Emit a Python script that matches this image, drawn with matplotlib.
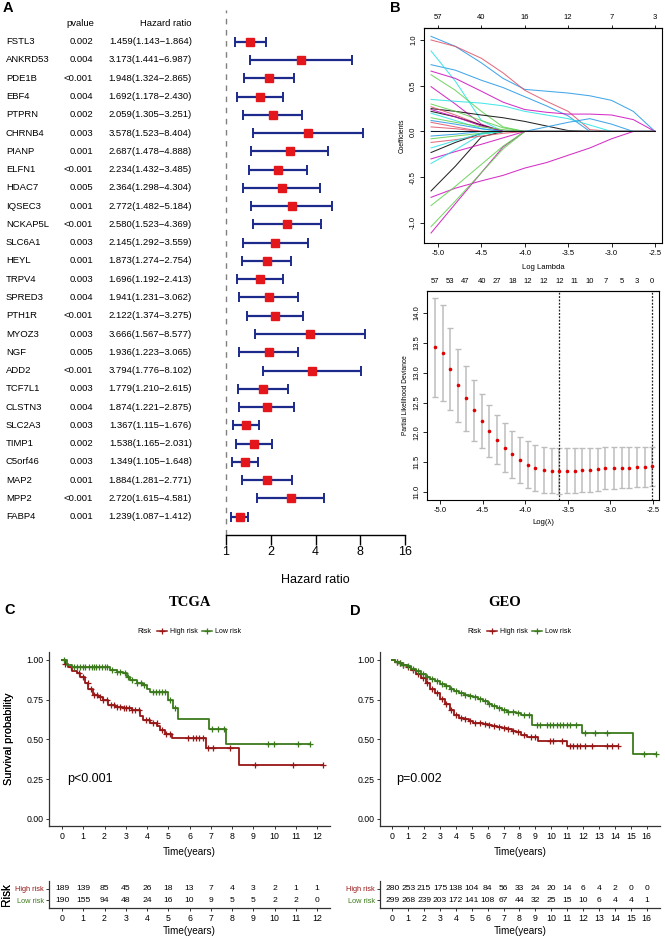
import numpy as np
import matplotlib
matplotlib.use("Agg")
import matplotlib.pyplot as plt
import matplotlib.transforms as mtrans
from matplotlib.lines import Line2D

W, H = 665, 938
plt.rcParams['font.family'] = ['Liberation Sans', 'DejaVu Sans']

# ---------------- A: univariate cox (forest)
genes = ['FSTL3', 'ANKRD53', 'PDE1B', 'EBF4', 'PTPRN', 'CHRNB4', 'PIANP', 'ELFN1', 'HDAC7',
         'IQSEC3', 'NCKAP5L', 'SLC6A1', 'HEYL', 'TRPV4', 'SPRED3', 'PTH1R', 'MYOZ3', 'NGF',
         'ADD2', 'TCF7L1', 'CLSTN3', 'SLC2A3', 'TIMP1', 'C5orf46', 'MAP2', 'MPP2', 'FABP4']
pvals = ['0.002', '0.004', '<0.001', '0.004', '0.002', '0.003', '0.001', '<0.001', '0.005',
         '0.001', '<0.001', '0.003', '0.001', '0.003', '0.004', '<0.001', '0.003', '0.005',
         '<0.001', '0.003', '0.004', '0.003', '0.002', '0.003', '0.001', '<0.001', '0.001']
hr = [1.459, 3.173, 1.948, 1.692, 2.059, 3.578, 2.687, 2.234, 2.364, 2.772, 2.580, 2.145, 1.873,
      1.696, 1.941, 2.122, 3.666, 1.936, 3.794, 1.779, 1.874, 1.367, 1.538, 1.349, 1.884, 2.720, 1.239]
hr_lo = [1.143, 1.441, 1.324, 1.178, 1.305, 1.523, 1.478, 1.432, 1.298, 1.482, 1.523, 1.292, 1.274,
         1.192, 1.231, 1.374, 1.567, 1.223, 1.776, 1.210, 1.221, 1.115, 1.165, 1.105, 1.281, 1.615, 1.087]
hr_hi = [1.864, 6.987, 2.865, 2.430, 3.251, 8.404, 4.888, 3.485, 4.304, 5.184, 4.369, 3.559, 2.754,
         2.413, 3.062, 3.275, 8.577, 3.065, 8.102, 2.615, 2.875, 1.676, 2.031, 1.648, 2.771, 4.581, 1.412]
hr_ticks = [1, 2, 4, 8, 16]

# ---------------- B top: lasso coefficient paths
coef_loglam = [-5.08, -4.8, -4.5, -4.25, -4.0, -3.75, -3.5, -3.25, -3.0, -2.75, -2.5]
coef_paths = [
    [1.04, 0.93, 0.75, 0.58, 0.46, 0.44, 0.42, 0.39, 0.34, 0.22, 0.0],
    [1.00, 0.93, 0.80, 0.64, 0.45, 0.33, 0.22, 0.02, 0, 0, 0],
    [0.73, 0.67, 0.56, 0.48, 0.38, 0.28, 0.17, 0.0, 0, 0, 0],
    [0.88, 0.55, 0.12, 0, 0, 0, 0, 0, 0, 0, 0],
    [0.66, 0.58, 0.44, 0.32, 0.24, 0.21, 0.19, 0.19, 0.18, 0.13, 0.0],
    [0.62, 0.45, 0.22, 0.05, 0, 0, 0, 0, 0, 0, 0],
    [0.49, 0.30, 0.08, 0, 0, 0, 0, 0, 0, 0, 0],
    [0.35, 0.33, 0.31, 0.28, 0.22, 0.18, 0.14, 0.07, 0.0, 0, 0],
    [0.25, 0.22, 0.18, 0.15, 0.11, 0.06, 0.01, 0, 0, 0, 0],
    [0.30, 0.22, 0.12, 0.04, 0, 0, 0, 0, 0, 0, 0],
    [0.27, 0.18, 0.07, 0, 0, 0, 0, 0, 0, 0, 0],
    [0.20, 0.12, 0.03, 0, 0, 0, 0, 0, 0, 0, 0],
    [0.22, 0.16, 0.07, 0.0, 0, 0, 0, 0, 0, 0, 0],
    [0.24, 0.16, 0.06, 0, 0, 0, 0, 0, 0, 0, 0],
    [0.12, 0.08, 0.03, 0, 0, 0, 0, 0, 0, 0, 0],
    [0.15, 0.10, 0.05, 0.02, 0, 0, 0, 0, 0, 0, 0],
    [0.10, 0.05, 0.0, 0, 0, 0, 0, 0, 0, 0, 0],
    [0.0, 0.0, 0.0, 0.0, 0.0, 0.05, 0.10, 0.14, 0.08, 0.0, 0.0],
    [-0.72, -0.62, -0.54, -0.48, -0.40, -0.34, -0.26, -0.18, -0.08, 0.0, 0.0],
    [-1.11, -0.79, -0.45, -0.17, 0, 0, 0, 0, 0, 0, 0],
    [-1.04, -0.76, -0.45, -0.19, 0, 0, 0, 0, 0, 0, 0],
    [-0.65, -0.38, -0.06, 0, 0, 0, 0, 0, 0, 0, 0],
    [-0.81, -0.60, -0.36, -0.16, 0, 0, 0, 0, 0, 0, 0],
    [-0.30, -0.22, -0.14, -0.07, 0, 0, 0, 0, 0, 0, 0],
    [-0.23, -0.12, -0.02, 0, 0, 0, 0, 0, 0, 0, 0],
    [-0.35, -0.20, -0.03, 0, 0, 0, 0, 0, 0, 0, 0],
    [-0.12, -0.09, -0.05, -0.02, 0, 0, 0, 0, 0, 0, 0],
    [-0.08, -0.05, -0.02, 0, 0, 0, 0, 0, 0, 0, 0],
    [-0.18, -0.10, -0.02, 0, 0, 0, 0, 0, 0, 0, 0],
    [-0.05, -0.03, 0, 0, 0, 0, 0, 0, 0, 0, 0],
    [0.05, 0.03, 0, 0, 0, 0, 0, 0, 0, 0, 0],
    [0.0, 0.0, 0.0, 0.0, 0.0, 0.0, 0.0, 0.0, 0.0, 0.0, 0.0],
]
coef_colors = ['#2297E6', '#DF536B', '#2297E6', '#28E2E5', '#CD0BBC', '#61D04F', '#CD0BBC', '#28E2E5',
               '#000000', '#61D04F', '#DF536B', '#28E2E5', '#000000', '#CD0BBC', '#2297E6', '#61D04F',
               '#DF536B', '#2297E6', '#CD0BBC', '#CD0BBC', '#61D04F', '#000000', '#61D04F', '#CD0BBC',
               '#000000', '#28E2E5', '#DF536B', '#61D04F', '#28E2E5', '#2297E6', '#DF536B', '#000000']
coef_top_ticks = [-5.0, -4.5, -4.0, -3.5, -3.0, -2.5]
coef_df = ['57', '40', '16', '12', '7', '3']

# ---------------- B bottom: cross validation
cv_loglam = [-5.06, -4.97, -4.88, -4.79, -4.70, -4.60, -4.51, -4.42, -4.33, -4.24, -4.15, -4.06,
             -3.97, -3.88, -3.78, -3.69, -3.60, -3.51, -3.42, -3.33, -3.24, -3.15, -3.06, -2.96,
             -2.87, -2.78, -2.69, -2.60, -2.51]
cv_mean = [13.43, 13.33, 13.06, 12.79, 12.57, 12.37, 12.19, 12.02, 11.88, 11.74, 11.63, 11.54,
           11.46, 11.40, 11.37, 11.36, 11.35, 11.36, 11.36, 11.37, 11.37, 11.38, 11.40, 11.40,
           11.41, 11.41, 11.42, 11.42, 11.43]
cv_se = [0.83, 0.80, 0.69, 0.61, 0.55, 0.51, 0.46, 0.43, 0.41, 0.41, 0.40, 0.39, 0.39, 0.39,
         0.38, 0.38, 0.38, 0.38, 0.37, 0.37, 0.37, 0.36, 0.35, 0.35, 0.34, 0.34, 0.33, 0.33, 0.33]
cv_nz = ['57', '', '53', '', '47', '', '40', '', '27', '', '18', '', '12', '', '12', '', '12', '',
         '11', '', '10', '', '7', '', '5', '', '3', '', '0']

# ---------------- C: TCGA survival
tcga_high_t = [0, 0.14, 0.3, 0.46, 0.69, 0.85, 1.08, 1.24, 1.47, 1.71, 1.94, 2.18, 2.49, 2.89,
               3.28, 3.67, 3.8, 4.14, 4.46, 4.61, 4.85, 5.16, 6.78, 8.33, 12.3]
tcga_high_s = [1.0, 0.975, 0.958, 0.933, 0.916, 0.895, 0.853, 0.82, 0.78, 0.765, 0.748, 0.716,
               0.706, 0.696, 0.685, 0.65, 0.622, 0.605, 0.584, 0.559, 0.534, 0.507, 0.444, 0.336, 0.336]
tcga_high_cens = [0.15, 0.4, 0.8, 1.0, 1.2, 1.35, 1.5, 1.65, 1.8, 1.95, 2.1, 2.3, 2.45, 2.6, 2.75,
                  2.9, 3.0, 3.15, 3.3, 3.45, 3.6, 3.95, 4.1, 4.3, 4.45, 4.7, 4.9, 5.1, 5.94, 6.18,
                  6.31, 6.46, 6.62, 6.88, 7.12, 7.9, 9.08, 10.88, 12.3]
tcga_low_t = [0, 0.22, 0.46, 2.26, 2.57, 2.89, 3.04, 3.2, 3.51, 3.83, 3.98, 4.14, 5.0, 5.2,
              5.47, 6.93, 7.7, 11.67]
tcga_low_s = [1.0, 0.968, 0.954, 0.937, 0.926, 0.916, 0.895, 0.874, 0.857, 0.842, 0.82, 0.80,
              0.748, 0.695, 0.626, 0.563, 0.471, 0.471]
tcga_low_cens = [0.1, 0.55, 0.7, 0.85, 1.0, 1.1, 1.25, 1.4, 1.5, 1.6, 1.75, 1.9, 2.0, 2.1, 2.35,
                 2.6, 2.75, 2.95, 3.1, 3.3, 3.55, 3.7, 3.85, 4.3, 4.4, 4.55, 4.7, 4.85, 5.1, 5.3,
                 7.04, 7.36, 7.62, 9.71, 9.98, 11.09, 11.67]
tcga_high_risk = [189, 139, 85, 45, 26, 18, 13, 7, 4, 3, 2, 1, 1]
tcga_low_risk = [190, 155, 94, 48, 24, 16, 10, 9, 5, 5, 2, 2, 0]

# ---------------- D: GEO survival
geo_high_t = [0, 0.2, 0.4, 0.6, 0.9, 1.2, 1.5, 1.8, 2.1, 2.4, 2.7, 3.0, 3.3, 3.6, 3.9, 4.2, 4.5,
              4.8, 5.1, 5.4, 5.7, 6.0, 6.3, 6.6, 6.9, 7.2, 7.5, 7.8, 8.1, 8.45, 9.18, 10.97, 14.21]
geo_high_s = [1.0, 0.99, 0.98, 0.97, 0.955, 0.935, 0.91, 0.885, 0.855, 0.82, 0.79, 0.755, 0.72,
              0.685, 0.655, 0.635, 0.625, 0.615, 0.605, 0.60, 0.595, 0.59, 0.583, 0.577, 0.57,
              0.562, 0.555, 0.545, 0.527, 0.513, 0.491, 0.458, 0.458]
geo_high_cens = [0.3, 0.5, 0.7, 1.0, 1.3, 1.6, 1.9, 2.2, 2.5, 2.8, 3.1, 3.4, 3.7, 4.0, 4.3, 4.6,
                 4.9, 5.2, 5.5, 5.8, 6.1, 6.4, 6.7, 7.0, 7.3, 7.6, 7.9, 8.3, 8.7, 9.0, 9.92,
                 10.13, 10.65, 11.18, 11.38, 11.64, 11.81, 12.12, 12.54, 13.48, 13.8, 14.21]
geo_low_t = [0, 0.2, 0.4, 0.6, 0.9, 1.2, 1.5, 1.8, 2.1, 2.4, 2.7, 3.0, 3.3, 3.6, 3.9, 4.2, 4.5,
             4.8, 5.1, 5.4, 5.7, 6.0, 6.3, 6.6, 6.9, 7.2, 7.5, 7.8, 8.1, 8.77, 11.91, 15.12, 16.58]
geo_low_s = [1.0, 0.99, 0.98, 0.97, 0.96, 0.945, 0.93, 0.91, 0.895, 0.88, 0.865, 0.85, 0.835,
             0.82, 0.805, 0.79, 0.78, 0.77, 0.765, 0.755, 0.74, 0.725, 0.71, 0.695, 0.685, 0.675,
             0.67, 0.664, 0.653, 0.59, 0.542, 0.408, 0.408]
geo_low_cens = [0.3, 0.5, 0.7, 1.0, 1.3, 1.6, 1.9, 2.2, 2.5, 2.8, 3.1, 3.4, 3.7, 4.0, 4.3, 4.6,
                4.9, 5.2, 5.5, 5.8, 6.1, 6.4, 6.7, 7.0, 7.3, 7.6, 7.9, 8.3, 8.6, 9.08, 9.29, 9.71,
                9.92, 10.13, 10.34, 10.55, 10.76, 10.97, 11.18, 11.55, 12.12, 12.75, 13.48,
                15.85, 16.58]
geo_high_risk = [280, 253, 215, 175, 138, 104, 84, 56, 33, 24, 20, 14, 6, 4, 2, 0, 0]
geo_low_risk = [299, 268, 239, 203, 172, 141, 108, 67, 44, 32, 25, 15, 10, 6, 4, 4, 1]

HIGH_COL = '#971616'
LOW_COL = '#3B7A1C'

fig = plt.figure(figsize=(W / 100, H / 100), dpi=100)


def add_ax(x0, y0, x1, y1):
    # axes from pixel box (top-left origin)
    return fig.add_axes([x0 / W, 1 - y1 / H, (x1 - x0) / W, (y1 - y0) / H])


def ftext(x, y, s, **kw):
    fig.text(x / W, 1 - y / H, s, **kw)


# ================= A
axf = add_ax(226, 10, 405, 535)
rows = np.arange(len(genes))
hr_a = np.array(hr)
axf.errorbar(hr_a, rows, xerr=[hr_a - np.array(hr_lo), np.array(hr_hi) - hr_a], fmt='none',
             ecolor='#1c2a8c', elinewidth=1.6, capsize=3.8, capthick=1.4)
axf.plot(hr_a, rows, 's', color='#e3161b', ms=6.2, mec='#e3161b', zorder=3)
axf.axvline(1, color='#808080', ls=(0, (4, 4)), lw=1.0, clip_on=False)
axf.set_xscale('log', base=2)
axf.set_xlim(1, 16)
axf.set_ylim(27.0, -1.735)
axf.set_xticks(hr_ticks)
axf.set_xticklabels([str(v) for v in hr_ticks])
axf.minorticks_off()
axf.set_yticks([])
for s in ['top', 'right', 'left']:
    axf.spines[s].set_visible(False)
axf.spines['bottom'].set_linewidth(1.0)
axf.tick_params(axis='x', length=7, width=1.0, labelsize=9, pad=1)
ftext(315, 580, 'Hazard ratio', ha='center', va='center', fontsize=9)

tr = mtrans.blended_transform_factory(fig.transFigure, axf.transData)
TFS = 6.8
fig.text(80 / W, -1, 'pvalue', transform=tr, ha='center', va='center', fontsize=TFS)
fig.text(192 / W, -1, 'Hazard ratio', transform=tr, ha='right', va='center', fontsize=TFS)
for i, g in enumerate(genes):
    fig.text(6 / W, i, g, transform=tr, ha='left', va='center', fontsize=TFS)
    fig.text(93 / W, i, pvals[i], transform=tr, ha='right', va='center', fontsize=TFS)
    fig.text(192 / W, i, f"{hr[i]:.3f}({hr_lo[i]:.3f}\u2212{hr_hi[i]:.3f})", transform=tr,
             ha='right', va='center', fontsize=TFS)

# ================= B top
axc = add_ax(424, 28, 662, 243)
for vals, col in zip(coef_paths, coef_colors):
    axc.plot(coef_loglam, vals, color=col, lw=0.75, alpha=0.85)
axc.set_xlim(-5.161, -2.419)
axc.set_ylim(-1.219, 1.131)
axc.set_xticks(coef_top_ticks)
axc.set_xticklabels([f"{v:.1f}" for v in coef_top_ticks])
yt = [-1.0, -0.5, 0.0, 0.5, 1.0]
axc.set_yticks(yt)
axc.set_yticklabels([f"{v:.1f}" for v in yt], rotation=90, va='center')
axc.tick_params(labelsize=5.5, length=3, width=0.6, pad=2)
for sp in axc.spines.values():
    sp.set_linewidth(0.8)
top = axc.secondary_xaxis('top')
top.set_xticks(coef_top_ticks)
top.set_xticklabels(coef_df)
top.tick_params(labelsize=5.5, length=2, width=0.6, pad=3)
axc.set_ylabel('Coefficients', fontsize=4.8, labelpad=3)
axc.set_xlabel('Log Lambda', fontsize=5.5, labelpad=5)

# ================= B bottom
axv = add_ax(427, 291, 659, 500)
axv.errorbar(cv_loglam, cv_mean, yerr=cv_se, fmt='none', ecolor='#bdbdbd', elinewidth=1.1,
             capsize=2.0, capthick=1.0)
axv.plot(cv_loglam, cv_mean, 'o', color='#e00000', ms=2.6, mec='none', zorder=3)
imin = int(np.argmin(cv_mean))
thr = cv_mean[imin] + cv_se[imin]
i1se = max(i for i in range(len(cv_mean)) if cv_mean[i] <= thr)
for lv in (cv_loglam[imin], cv_loglam[i1se]):
    axv.axvline(lv, color='#222222', ls=(0, (1.5, 1.2)), lw=0.9)
axv.set_xlim(-5.153, -2.43)
axv.set_ylim(10.866, 14.369)
xt = [-5.0, -4.5, -4.0, -3.5, -3.0, -2.5]
axv.set_xticks(xt)
axv.set_xticklabels([f"{v:.1f}" for v in xt])
yt2 = [11.0, 11.5, 12.0, 12.5, 13.0, 13.5, 14.0]
axv.set_yticks(yt2)
axv.set_yticklabels([f"{v:.1f}" for v in yt2], rotation=90, va='center')
axv.tick_params(labelsize=5.5, length=3, width=0.6, pad=2)
for sp in axv.spines.values():
    sp.set_linewidth(0.8)
topv = axv.secondary_xaxis('top')
topv.set_xticks(cv_loglam)
topv.set_xticklabels(cv_nz)
topv.tick_params(labelsize=5.5, length=0, pad=4)
axv.set_ylabel('Partial Likelihood Deviance', fontsize=4.8, labelpad=3)
axv.set_xlabel('Log(\u03bb)', fontsize=5.5, labelpad=4)


# ================= C / D
def km_curve(ax, t, s, cens, col):
    ax.step(t, s, where='post', color=col, lw=1.3)
    idx = np.searchsorted(t, cens, side='right') - 1
    ax.plot(cens, np.array(s)[idx], '+', color=col, ms=4.5, mew=0.9)


def style_axes(ax):
    for s in ['top', 'right']:
        ax.spines[s].set_visible(False)
    for s in ['left', 'bottom']:
        ax.spines[s].set_linewidth(0.9)
        ax.spines[s].set_color('#333333')
    ax.tick_params(labelsize=6.3, length=2.5, width=0.7, pad=1.5, colors='#333333',
                   labelcolor='black')


def km_panel(x0, x1, xlim, nyears, hi, lo, risk_hi, risk_lo, ptxt):
    ax = add_ax(x0, 652, x1, 826)
    km_curve(ax, *hi, HIGH_COL)
    km_curve(ax, *lo, LOW_COL)
    ax.set_xlim(*xlim)
    ax.set_ylim(-0.046, 1.05)
    ax.set_xticks(range(nyears + 1))
    ax.set_yticks([0, 0.25, 0.5, 0.75, 1.0])
    ax.set_yticklabels(['0.00', '0.25', '0.50', '0.75', '1.00'])
    style_axes(ax)
    ax.set_xlabel('Time(years)', fontsize=7.2)
    ax.xaxis.set_label_coords(0.5, (826 - 847) / 174)
    ax.set_ylabel('Survival probability', fontsize=7.8)
    ax.yaxis.set_label_coords((14 - x0) / (x1 - x0), 0.5)
    ax.text(0.25, 0.25, ptxt, fontsize=9, ha='left', va='center')

    rk = add_ax(x0, 881, x1, 908)
    yrs = np.arange(nyears + 1)
    for j, n in enumerate(risk_hi):
        rk.text(yrs[j], 0, str(n), ha='center', va='center', fontsize=6.1)
    for j, n in enumerate(risk_lo):
        rk.text(yrs[j], 1, str(n), ha='center', va='center', fontsize=6.1)
    rk.set_xlim(*xlim)
    rk.set_ylim(1.727, -0.727)
    rk.set_xticks(yrs)
    rk.set_yticks([0, 1])
    rk.set_yticklabels(['High risk', 'Low risk'])
    style_axes(rk)
    rk.tick_params(axis='y', labelsize=5.3, pad=1)
    rk.get_yticklabels()[0].set_color(HIGH_COL)
    rk.get_yticklabels()[1].set_color(LOW_COL)
    rk.set_xlabel('Time(years)', fontsize=7.2)
    rk.xaxis.set_label_coords(0.5, (908 - 926) / 27)
    rk.set_ylabel('Risk', fontsize=8.5)
    rk.yaxis.set_label_coords((13 - x0) / (x1 - x0), 0.5)
    return ax


km_panel(49, 330, (-0.612, 12.61), 12, (tcga_high_t, tcga_high_s, tcga_high_cens),
         (tcga_low_t, tcga_low_s, tcga_low_cens), tcga_high_risk, tcga_low_risk, 'p<0.001')
km_panel(380, 660, (-0.774, 16.84), 16, (geo_high_t, geo_high_s, geo_high_cens),
         (geo_low_t, geo_low_s, geo_low_cens), geo_high_risk, geo_low_risk, 'p=0.002')

# titles and legends
for cx, ttl, lx in [(190, 'TCGA', 137), (505, 'GEO', 467)]:
    ftext(cx, 602, ttl, ha='center', va='center', fontsize=10.5, fontweight='bold',
          family='Liberation Serif')
    ftext(lx, 631, 'Risk', ha='left', va='center', fontsize=5)
    for k0, txt, col in [(lx + 20, 'High risk', HIGH_COL), (lx + 65, 'Low risk', LOW_COL)]:
        fig.add_artist(Line2D([k0 / W, (k0 + 10) / W], [1 - 631 / H] * 2, transform=fig.transFigure,
                              color=col, lw=1.1))
        fig.add_artist(Line2D([(k0 + 5) / W], [1 - 631 / H], transform=fig.transFigure,
                              color=col, marker='+', ms=4, mew=0.9))
        ftext(k0 + 13, 631, txt, ha='left', va='center', fontsize=5)

# panel letters
for x, y, lab in [(8, 8, 'A'), (395, 8, 'B'), (10, 610, 'C'), (355, 611, 'D')]:
    ftext(x, y, lab, ha='center', va='center', fontsize=10.5, fontweight='bold')

fig.savefig('out.png', dpi=100)
